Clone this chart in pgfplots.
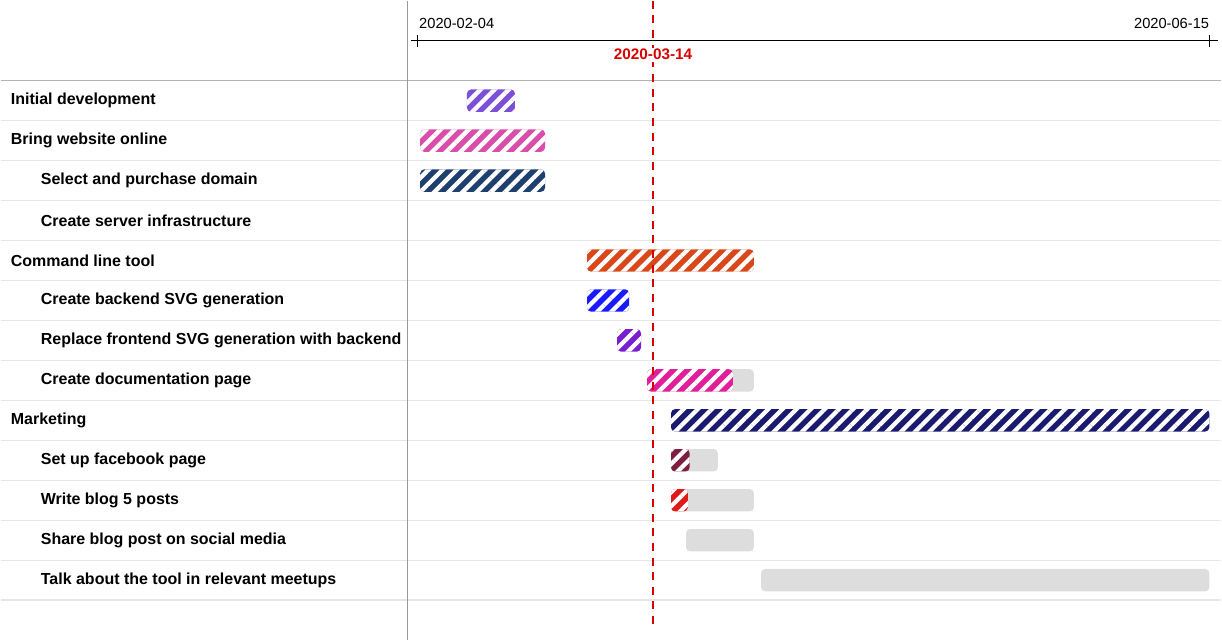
\documentclass[border=0pt]{standalone}
\usepackage{pgfplots}
\pgfplotsset{compat=1.18}
\usepackage{fontspec}
\setmainfont{Liberation Sans}
\usetikzlibrary{patterns.meta}
\definecolor{cA}{HTML}{7B4FD6}
\definecolor{cB}{HTML}{D94EA8}
\definecolor{cC}{HTML}{1F3F6E}
\definecolor{cD}{HTML}{D9481A}
\definecolor{cE}{HTML}{1A1AFF}
\definecolor{cF}{HTML}{7A1FD0}
\definecolor{cG}{HTML}{E0209B}
\definecolor{cH}{HTML}{1A1A6E}
\definecolor{cI}{HTML}{7A1F3F}
\definecolor{cJ}{HTML}{E01A1A}
\definecolor{gbar}{HTML}{DDDDDD}
\definecolor{sep}{HTML}{E6E6E6}
% {start}{end}{ylo}{yhi}{colour}
\newcommand{\gbarplain}[5]{\addplot[fill=#5,draw=none,rounded corners=3pt] coordinates {(#1,#3) (#2,#3) (#2,#4) (#1,#4)} --cycle;}
\newcommand{\gbarhatch}[5]{\addplot[fill=#5,draw=none,rounded corners=3pt,postaction={pattern={Lines[angle=45,distance=7.5pt,line width=3.2pt]},pattern color=white,fill opacity=0.18}] coordinates {(#1,#3) (#2,#3) (#2,#4) (#1,#4)} --cycle;}
\newcommand{\lab}[3]{\node[anchor=west,font=\bfseries\fontsize{12}{14}\selectfont,inner sep=0pt] at ([xshift=#1]axis cs:-1.66,#2) {#3};}
\begin{document}
\begin{tikzpicture}
\begin{axis}[
  scale only axis, width=611.25pt, height=480pt,
  xmin=-1.66, xmax=134, ymin=-2.5, ymax=13.5, y dir=reverse,
  axis lines=none, clip=false, ticks=none,
]
% row separators
\pgfplotsinvokeforeach{0.5,1.5,2.5,3.5,4.5,5.5,6.5,7.5,8.5,9.5,10.5,11.5,12.5}{
  \draw[sep,line width=1pt] ([xshift=-305.25pt]axis cs:-1.66,#1) -- (axis cs:134,#1);
}
\draw[gray!60,line width=1pt] ([xshift=-305.25pt]axis cs:-1.66,-0.5) -- (axis cs:134,-0.5);
\draw[gray!80,line width=0.8pt] (axis cs:-1.66,-2.5) -- (axis cs:-1.66,13.5);
% top time axis
\draw[black,line width=0.8pt] (axis cs:-1.1,-1.5) -- (axis cs:133.4,-1.5);
\draw[black,line width=0.8pt] (axis cs:0,-1.65) -- (axis cs:0,-1.35);
\draw[black,line width=0.8pt] (axis cs:132,-1.65) -- (axis cs:132,-1.35);
\node[font=\fontsize{11}{13}\selectfont,anchor=west,inner sep=0pt] at (axis cs:0.3,-1.93) {2020-02-04};
\node[font=\fontsize{11}{13}\selectfont,anchor=east,inner sep=0pt] at (axis cs:132,-1.93) {2020-06-15};
% labels
\lab{-297.75pt}{0}{Initial development}
\lab{-297.75pt}{1}{Bring website online}
\lab{-275.25pt}{2}{Select and purchase domain}
\lab{-275.25pt}{3}{Create server infrastructure}
\lab{-297.75pt}{4}{Command line tool}
\lab{-275.25pt}{5}{Create backend SVG generation}
\lab{-275.25pt}{6}{Replace frontend SVG generation with backend}
\lab{-275.25pt}{7}{Create documentation page}
\lab{-297.75pt}{8}{Marketing}
\lab{-275.25pt}{9}{Set up facebook page}
\lab{-275.25pt}{10}{Write blog 5 posts}
\lab{-275.25pt}{11}{Share blog post on social media}
\lab{-275.25pt}{12}{Talk about the tool in relevant meetups}
% background (total) bars
\gbarplain{38.3}{56.1}{6.72}{7.28}{gbar}
\gbarplain{42.3}{50.1}{8.72}{9.28}{gbar}
\gbarplain{42.3}{56.1}{9.72}{10.28}{gbar}
\gbarplain{44.8}{56.1}{10.72}{11.28}{gbar}
\gbarplain{57.3}{132}{11.72}{12.28}{gbar}
% progress bars
\gbarhatch{8.3}{16.3}{-0.28}{0.28}{cA}
\gbarhatch{0.5}{21.3}{0.72}{1.28}{cB}
\gbarhatch{0.5}{21.3}{1.72}{2.28}{cC}
\gbarhatch{28.3}{56.1}{3.72}{4.28}{cD}
\gbarhatch{28.3}{35.3}{4.72}{5.28}{cE}
\gbarhatch{33.3}{37.3}{5.72}{6.28}{cF}
\gbarhatch{38.3}{52.6}{6.72}{7.28}{cG}
\gbarhatch{42.3}{132}{7.72}{8.28}{cH}
\gbarhatch{42.3}{45.4}{8.72}{9.28}{cI}
\gbarhatch{42.3}{45.1}{9.72}{10.28}{cJ}
% today line
\draw[red!85!black,line width=1.2pt,dash pattern=on 6pt off 5pt] (axis cs:39.3,-2.5) -- (axis cs:39.3,13.25);
\node[text=red!85!black,font=\bfseries\fontsize{11.5}{13}\selectfont,fill=white,inner sep=1pt] at (axis cs:39.3,-1.15) {2020-03-14};
\end{axis}
\end{tikzpicture}
\end{document}
